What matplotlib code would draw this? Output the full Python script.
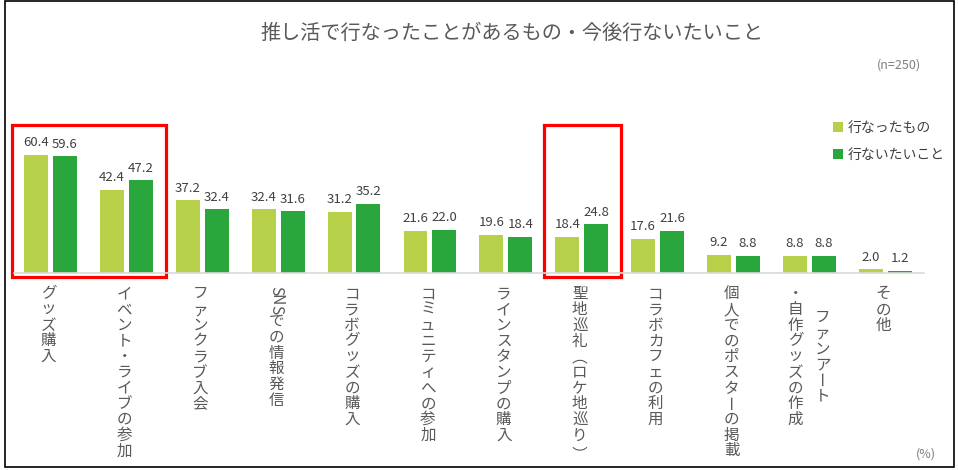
import numpy as np
import matplotlib
matplotlib.use("Agg")
import matplotlib.pyplot as plt
from matplotlib.patches import Rectangle

plt.rcParams['font.family'] = ['Noto Sans CJK JP', 'DejaVu Sans']

# ── Données ──────────────────────────────────────────────────────────────────
categories = [
    ["グッズ購入"],
    ["イベント・ライブの参加"],
    ["ファンクラブ入会"],
    ["SNSでの情報発信"],
    ["コラボグッズの購入"],
    ["コミュニティへの参加"],
    ["ラインスタンプの購入"],
    ["聖地巡礼（ロケ地巡り）"],
    ["コラボカフェの利用"],
    ["個人でのポスターの掲載"],
    ["ファンアート", "・自作グッズの作成"],
    ["その他"],
]
done = [60.4, 42.4, 37.2, 32.4, 31.2, 21.6, 19.6, 18.4, 17.6, 9.2, 8.8, 2.0]
want = [59.6, 47.2, 32.4, 31.6, 35.2, 22.0, 18.4, 24.8, 21.6, 8.8, 8.8, 1.2]
series_names = ["行なったもの", "行ないたいこと"]
highlight_groups = [(0, 1), (7, 7)]

title = "推し活で行なったことがあるもの・今後行ないたいこと"
sample_note = "(n=250)"
unit_note = "(%)"

c_light = "#B7D04A"
c_dark = "#29A73C"
c_text = "#595959"

W, H = 958, 470
fig = plt.figure(figsize=(W / 100, H / 100), dpi=100)
ax = fig.add_axes([14 / W, (H - 273) / H, 910 / W, 196 / H])

x = np.arange(len(done))
bw = 0.316
b1 = ax.bar(x - 0.19, done, bw, color=c_light, label=series_names[0])
b2 = ax.bar(x + 0.19, want, bw, color=c_dark, label=series_names[1])
for b in (b1, b2):
    ax.bar_label(b, fmt="%.1f", padding=4, fontsize=9.5, color="#404040")

ax.set_xlim(-0.48, 11.51)
ax.set_ylim(0, 100)
for s in ("top", "right", "left"):
    ax.spines[s].set_visible(False)
ax.spines["bottom"].set_color("#D9D9D9")
ax.spines["bottom"].set_linewidth(1.2)
ax.set_xticks([])
ax.set_yticks([])

# ── Étiquettes verticales (écriture japonaise verticale) ─────────────────────
FS = 11.2                 # taille de police (pt)
EM = FS / 0.72            # taille en px
STEP = 15.7               # px par caractère pleine chasse
PX = 0.72                 # px -> points
# caractères tournés de 90° : correction (dx, dy) en px, mesurée sur Noto CJK
ROT = {
    "（": (-0.78 * EM, 0.34 * EM + 3.5),
    "）": (-0.13 * EM, 0.38 * EM - 4.0),
    "ー": (-0.20 * EM, 0.0),
}


def colonne_verticale(xc, texte, dx_px, debut_px):
    y = debut_px
    for ch in texte:
        ox, oy = 0.0, 0.0
        if ch.isascii():
            h = 9.3
            rot = -90
        else:
            h = STEP
            rot = 0
            if ch in ROT:
                rot = -90
                ox, oy = ROT[ch]
        yc = y + h / 2 + oy
        ax.annotate(ch, xy=(xc, 0), xycoords=("data", "axes fraction"),
                    xytext=((dx_px + ox) * PX, -yc * PX),
                    textcoords="offset points",
                    ha="center", va="center", rotation=rot,
                    rotation_mode="anchor",
                    fontsize=FS, color=c_text, annotation_clip=False)
        y += h


for i, lignes in enumerate(categories):
    if len(lignes) == 1:
        colonne_verticale(i, lignes[0], -2, 13)
    else:
        n_max = max(len(l) for l in lignes)
        # première ligne à droite, suivantes vers la gauche, centrées verticalement
        for k, l in enumerate(lignes):
            dx = 13 - 27 * k
            debut = 13 + (n_max - len(l)) * STEP / 2
            colonne_verticale(i, l, dx, debut)

# ── Cadres rouges ────────────────────────────────────────────────────────────
for a, b in highlight_groups:
    ax.add_patch(Rectangle((a - 0.5, -2.2), (b - a) + 1.02, 77.6, fill=False,
                           edgecolor="#FF0000", linewidth=2.3, clip_on=False))

# ── Textes ───────────────────────────────────────────────────────────────────
fig.text(512 / W, 1 - 33 / H, title, ha="center", va="center",
         fontsize=14.5, color=c_text)
fig.text(921 / W, 1 - 65 / H, sample_note, ha="right", va="center",
         fontsize=9, color="#7F7F7F")
fig.text(936 / W, 1 - 454 / H, unit_note, ha="right", va="center",
         fontsize=9, color="#7F7F7F")

ax.legend(loc="upper left", bbox_to_anchor=(826 / W, 1 - 114 / H),
          bbox_transform=fig.transFigure, frameon=False, fontsize=10,
          handlelength=0.75, handleheight=0.75, handletextpad=0.3,
          labelspacing=0.95, borderpad=0, labelcolor="#404040")

# ── Bordure ──────────────────────────────────────────────────────────────────
fig.add_artist(Rectangle((5 / W, 3 / H), 949 / W, 466 / H, fill=False,
                         edgecolor="black", linewidth=1.2,
                         transform=fig.transFigure))

fig.savefig("out.png", dpi=100)
